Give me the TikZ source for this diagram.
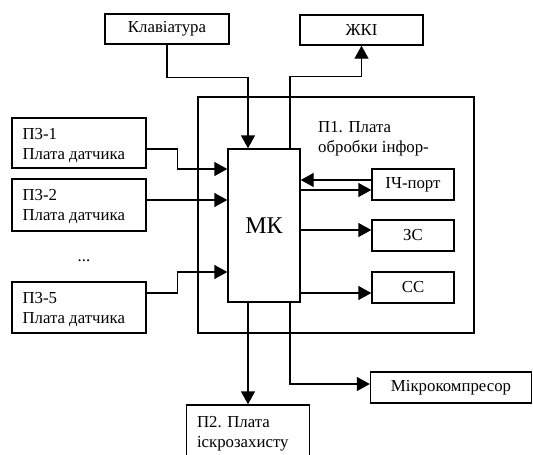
\documentclass[tikz,border=0pt]{standalone}
\usepackage{fontspec}
\setmainfont{Liberation Serif}
\usetikzlibrary{arrows.meta}
\begin{document}
\begin{tikzpicture}[x=1pt,y=-1pt,
  box/.style={draw,line width=1.4pt,inner sep=0pt,fill=white,
    font=\fontsize{16.8}{20}\selectfont},
  lbl/.style={inner sep=0pt,align=left,anchor=north west,
    font=\fontsize{16.8}{20}\selectfont},
  arr/.style={line width=1.4pt,-{Triangle[length=13pt,width=14pt]}},
  ln/.style={line width=1.4pt}]
\clip (0,0) rectangle (533,455);
\fill[white] (0,0) rectangle (533,455);
% big board
\node[box,minimum width=276pt,minimum height=236pt] (p1) at (336,215) {};
\node[lbl] (p1t) at (318,121.5) {П1. Плата\\обробки інфор-};
% boxes
\node[box,minimum width=124pt,minimum height=30pt] (klav) at (167,29) {Клавіатура};
\node[box,minimum width=123pt,minimum height=30pt] (zhki) at (361.5,30) {ЖКІ};
\node[box,minimum width=72pt,minimum height=153pt,font=\fontsize{24}{28}\selectfont] (mk) at (264,225.5) {МК};
\node[box,minimum width=134pt,minimum height=50pt] (p31) at (79,143) {};
\node[lbl] (p31t) at (p31.north west) [xshift=11pt,yshift=-10.5pt] {П3-1\\Плата датчика};
\node[box,minimum width=134pt,minimum height=52pt] (p32) at (79,205) {};
\node[lbl] (p32t) at (p32.north west) [xshift=11pt,yshift=-10.5pt] {П3-2\\Плата датчика};
\node[font=\fontsize{16.8}{20}\selectfont,inner sep=0pt] (dots) at (84,261) {...};
\node[box,minimum width=134pt,minimum height=51pt] (p35) at (79,307.5) {};
\node[lbl] (p35t) at (p35.north west) [xshift=11pt,yshift=-10.5pt] {П3-5\\Плата датчика};
\node[box,minimum width=123pt,minimum height=60pt] (p2) at (248,435) {};
\node[lbl] (p2t) at (p2.north west) [xshift=11pt,yshift=-11.5pt] {П2. Плата\\іскрозахисту};
\node[box,minimum width=82pt,minimum height=31pt] (ich) at (413,184.5) {ІЧ-порт};
\node[box,minimum width=82pt,minimum height=31pt] (zs) at (413,235.5) {ЗС};
\node[box,minimum width=82pt,minimum height=31pt] (ss) at (413,287.5) {СС};
\node[box,minimum width=161pt,minimum height=31pt] (mikro) at (451,387.5) {Мікрокомпресор};
% connectors
\draw[arr] (klav.south) -- ++(0,33) -| ([xshift=-16pt]mk.north);
\draw[arr] ([xshift=26pt]mk.north) -- ++(0,-72) -| (zhki.south);
\draw[arr] ([yshift=-6pt]p31.east) -- ++(31,0) |- ([yshift=56.5pt]mk.west);
\draw[arr] ([yshift=5pt]p32.east) -- ([yshift=25.5pt]mk.west);
\draw[arr] ([yshift=14.5pt]p35.east) -- ++(31,0) |- ([yshift=-46.5pt]mk.west);
\draw[arr] ([yshift=4.5pt]ich.west) -- ([yshift=45.5pt]mk.east);
\draw[arr] ([yshift=35.5pt]mk.east) -- ([yshift=-5.5pt]ich.west);
\draw[arr] ([yshift=-4.5pt]mk.east) -- ([yshift=5.5pt]zs.west);
\draw[arr] ([yshift=-67.5pt]mk.east) -- ([yshift=-5.5pt]ss.west);
\draw[arr] ([xshift=-16pt]mk.south) -- (p2.north);
\draw[arr] ([xshift=26pt]mk.south) |- ([yshift=3.5pt]mikro.west);
\end{tikzpicture}
\end{document}
